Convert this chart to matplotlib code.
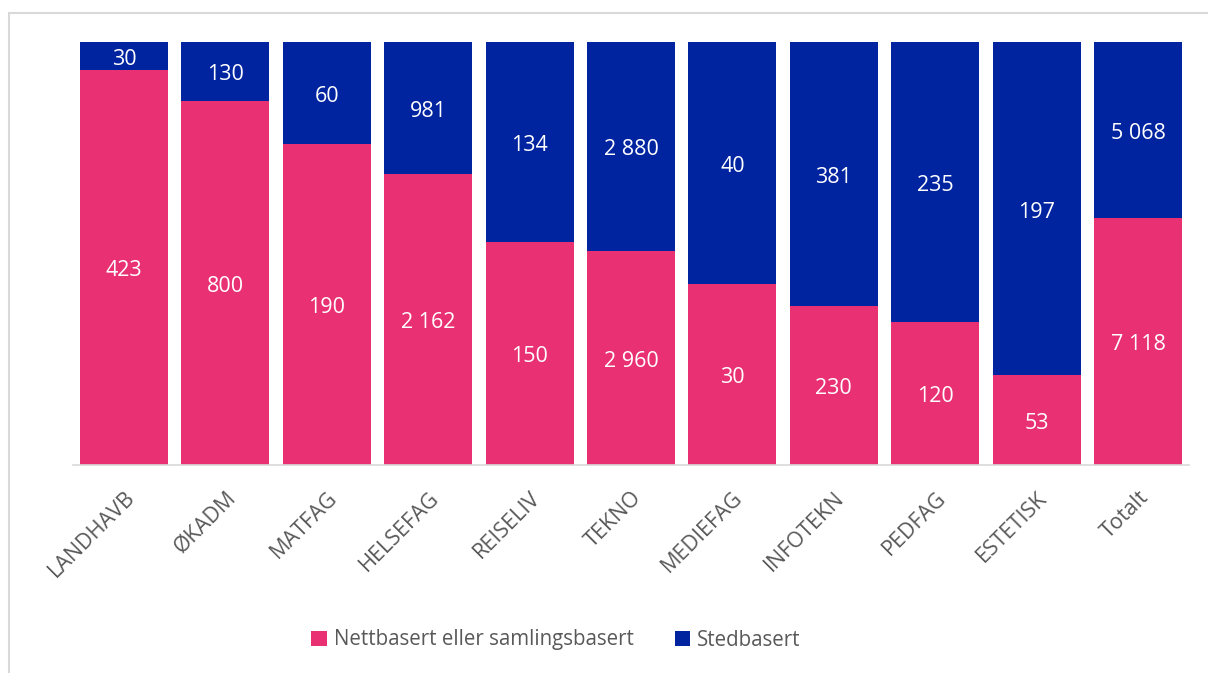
import matplotlib.pyplot as plt
from matplotlib.patches import Rectangle
import numpy as np

plt.rcParams["font.family"] = ["Open Sans", "DejaVu Sans"]

# data
categories = ["LANDHAVB", "ØKADM", "MATFAG", "HELSEFAG", "REISELIV", "TEKNO",
              "MEDIEFAG", "INFOTEKN", "PEDFAG", "ESTETISK", "Totalt"]
nettbasert = [423, 800, 190, 2162, 150, 2960, 30, 230, 120, 53, 7118]
stedbasert = [30, 130, 60, 981, 134, 2880, 40, 381, 235, 197, 5068]
series_names = ["Nettbasert eller samlingsbasert", "Stedbasert"]

PINK = "#E83073"
BLUE = "#0024A0"
GREY = "#595959"


def fmt(v):
    return f"{v:,}".replace(",", " ")


W, H = 1208, 673
fig = plt.figure(figsize=(W / 100, H / 100), dpi=100)
ax = fig.add_axes([73.3 / W, 1 - 465 / H, 1115.4 / W, (465 - 42) / H])

# outer frame
fig.patches.append(Rectangle((9 / W, -0.01), 1.02, 1 - 13 / H + 0.01,
                             transform=fig.transFigure, fill=False,
                             edgecolor="#D9D9D9", linewidth=1.5))

x = np.arange(len(categories))
a = np.array(nettbasert, dtype=float)
b = np.array(stedbasert, dtype=float)
tot = a + b
pa = a / tot
pb = b / tot

ax.bar(x, pa, width=0.868, color=PINK, label=series_names[0])
ax.bar(x, pb, width=0.868, bottom=pa, color=BLUE, label=series_names[1])

for i in range(len(x)):
    ax.text(x[i], pa[i] / 2 - 0.008, fmt(nettbasert[i]), ha="center", va="center",
            color="white", fontsize=15.5)
    ax.text(x[i], pa[i] + pb[i] / 2 - 0.008, fmt(stedbasert[i]), ha="center",
            va="center", color="white", fontsize=15.5)

ax.set_xlim(-0.5, len(x) - 0.5)
ax.set_ylim(0, 1)
ax.set_yticks([])
for s in ["top", "right", "left"]:
    ax.spines[s].set_visible(False)
ax.spines["bottom"].set_color("#D9D9D9")
ax.spines["bottom"].set_linewidth(1.2)

ax.set_xticks(x)
ax.set_xticklabels(categories, rotation=45, ha="right", rotation_mode="anchor",
                   color=GREY, fontsize=15.5)
ax.tick_params(axis="x", length=0, pad=16)

fig.legend(loc="center", bbox_to_anchor=(556 / W, 1 - 640 / H), ncol=2,
           frameon=False, fontsize=14.8, labelcolor=GREY, handlelength=0.75,
           handleheight=0.75, columnspacing=2.0, handletextpad=0.35)

fig.savefig("out.png", dpi=100)
